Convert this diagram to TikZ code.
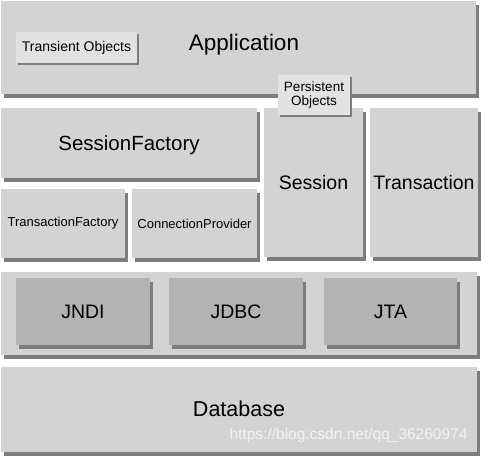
\documentclass[tikz,border=0pt]{standalone}
\usepackage{fontspec}
\setmainfont{Liberation Sans}
\usepackage{tikz}
\usetikzlibrary{shadows}
\usepackage{xcolor}
\definecolor{boxgray}{RGB}{211,211,211}
\definecolor{darkbox}{RGB}{179,179,179}
\definecolor{lightbox}{RGB}{226,226,226}
\definecolor{shadegray}{RGB}{125,125,125}

\begin{document}
\begin{tikzpicture}[x=1pt,y=-1pt,
  layer/.style={fill=boxgray,inner sep=0pt,
    drop shadow={shadow xshift=3pt,shadow yshift=-4pt,fill=shadegray,opacity=1}},
  inner/.style={layer,fill=darkbox},
  tag/.style={fill=lightbox,inner sep=0pt,align=center,
    drop shadow={shadow xshift=1.5pt,shadow yshift=-1.5pt,fill=shadegray,opacity=1}},
  big/.style={font=\fontsize{19.5}{22}\selectfont,text height=14pt,text depth=0pt},
  small/.style={font=\fontsize{13}{14}\selectfont}]
\useasboundingbox[fill=white] (0,0) rectangle (481,455);
% application layer
\node[layer, minimum width=475, minimum height=93] (app) at (238.5,47.5) {};
\node[font=\fontsize{22.5}{24}\selectfont] (apptext) at (244,45) {Application};
\node[tag, font=\fontsize{14}{15}\selectfont, minimum width=121, minimum height=31] (transient) at (76.5,47.5) {Transient Objects};
% hibernate core
\node[layer, big, font=\fontsize{20.5}{22}\selectfont, minimum width=256, minimum height=70] (sf) at (129,143) {SessionFactory};
\node[layer, small, minimum width=124, minimum height=69] (tf) at (63,223.5) {TransactionFactory};
\node[layer, small, minimum width=125, minimum height=69] (cp) at (194.5,223.5) {ConnectionProvider};
\node[layer, big, minimum width=99, minimum height=149] (session) at (313.5,182.5) {Session};
\node[layer, big, minimum width=108, minimum height=149] (tx) at (424,182.5) {Transaction};
% apis
\node[layer, minimum width=476, minimum height=83] (band) at (239,313.5) {};
\node[inner, big, minimum width=134, minimum height=67] (jndi) at (83,311.5) {JNDI};
\node[inner, big, minimum width=134, minimum height=67] (jdbc) at (236,311.5) {JDBC};
\node[inner, big, minimum width=133, minimum height=67] (jta) at (390.5,311.5) {JTA};
% database
\node[layer, big, font=\fontsize{21.5}{23}\selectfont, minimum width=476, minimum height=85] (db) at (239,409.5) {Database};
\node[anchor=east, text=white, opacity=0.7, font=\fontsize{15.5}{18}\selectfont] (mark) at (471,435) {https://blog.csdn.net/qq\_36260974};
\node[tag, font=\fontsize{13.5}{14}\selectfont, minimum width=72, minimum height=40] (persistent) at (314,95) {Persistent\\Objects};
\end{tikzpicture}
\end{document}
